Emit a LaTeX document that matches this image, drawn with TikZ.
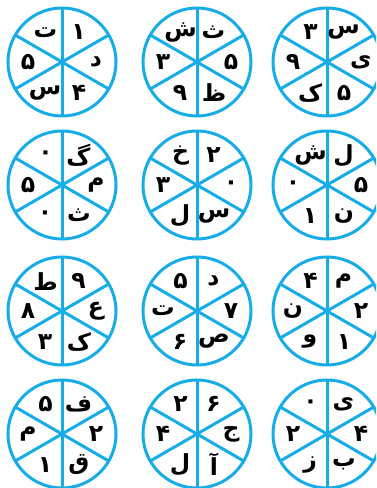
\documentclass[tikz,border=0pt]{standalone}
\usepackage{fontspec}
\usetikzlibrary{calc}
\TeXXeTstate=1
\newfontfamily\arabicfont[Script=Arabic]{DejaVu Sans}
\definecolor{wheelblue}{RGB}{22,172,232}

% one wheel: name, centre, labels from top right going clockwise
\newcommand{\wheel}[8]{%
  \coordinate (#1) at #2;
  \draw[rim] (#1) circle (54);
  \draw[rim] ($(#1)+(90:54)$) -- ($(#1)+(270:54)$);
  \draw[rim] ($(#1)+(30:54)$) -- ($(#1)+(210:54)$);
  \draw[rim] ($(#1)+(150:54)$) -- ($(#1)+(330:54)$);
  \node[lab] (#1-tr) at ($(#1)+(61:34)$) {\beginR #3\endR};
  \node[lab] (#1-r)  at ($(#1)+(0:34)$) {\beginR #4\endR};
  \node[lab] (#1-br) at ($(#1)+(299:35)$) {\beginR #5\endR};
  \node[lab] (#1-bl) at ($(#1)+(241:35)$) {\beginR #6\endR};
  \node[lab] (#1-l)  at ($(#1)+(180:34)$) {\beginR #7\endR};
  \node[lab] (#1-tl) at ($(#1)+(119:34)$) {\beginR #8\endR};
}

\begin{document}
\begin{tikzpicture}[x=1pt, y=1pt,
  rim/.style={draw=wheelblue, line width=3pt},
  lab/.style={font=\arabicfont\bfseries\fontsize{23.5}{23.5}\selectfont, inner sep=0pt}]
\useasboundingbox (0,0) rectangle (376,488);
\begin{scope}
\clip (0,0) rectangle (376,488);
% first row
\wheel{w1}{(62,426)}{۱}{د}{۴}{س}{۵}{ت}
\wheel{w2}{(197,426)}{ث}{۵}{ظ}{۹}{۳}{ش}
\wheel{w3}{(327,426)}{س}{ی}{۵}{ک}{۹}{۳}
% second row
\wheel{w4}{(62,303)}{گ}{م}{ث}{۰}{۵}{۰}
\wheel{w5}{(197,303)}{۲}{۰}{س}{ل}{۳}{خ}
\wheel{w6}{(327,303)}{ل}{۵}{ن}{۱}{۰}{ش}
% third row
\wheel{w7}{(62,177)}{۹}{ع}{ک}{۳}{۸}{ط}
\wheel{w8}{(197,177)}{د}{۷}{ص}{۶}{ت}{۵}
\wheel{w9}{(327,177)}{م}{۲}{۱}{و}{ن}{۴}
% fourth row
\wheel{w10}{(62,54)}{ف}{۲}{ق}{۱}{م}{۵}
\wheel{w11}{(197,54)}{۶}{ج}{آ}{ل}{۴}{۲}
\wheel{w12}{(327,54)}{ی}{۴}{ب}{ز}{۲}{۰}
\end{scope}
\end{tikzpicture}
\end{document}
